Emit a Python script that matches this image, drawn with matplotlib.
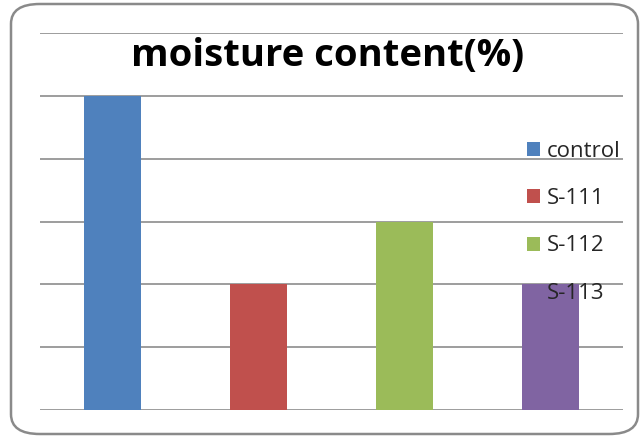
import matplotlib.pyplot as plt
from matplotlib.patches import FancyBboxPatch, Patch

# data
categories = ["control", "S-111", "S-112", "S-113"]
values = [5, 2, 3, 2]
colors = ["#4f81bd", "#c0504d", "#9bbb59", "#8064a2"]

fig = plt.figure(figsize=(6.41, 4.38), dpi=100)
ax = fig.add_axes([40 / 641, 28 / 438, 583 / 641, 377 / 438])

x = range(len(categories))
ax.bar(x, values, width=0.39, color=colors, zorder=3)

ax.set_xlim(-0.5, len(categories) - 0.5)
ax.set_ylim(0, 6)
ax.set_yticks(range(0, 7))
ax.yaxis.grid(True, color="#8c8c8c", linewidth=1.2, zorder=0)
ax.set_xticks([])
ax.tick_params(left=False, labelleft=False)
for s in ax.spines.values():
    s.set_visible(False)

# title drawn over the plot like excel
fig.text(0.511, 0.873, "moisture content(%)", ha="center", va="center",
         fontsize=27.5, fontweight="bold", family="Open Sans")

handles = [Patch(facecolor=c, edgecolor="none") for c in colors]
leg = ax.legend(handles, categories, loc="upper left",
                bbox_to_anchor=(487 / 583, (410 - 141) / 377),
                frameon=False, prop={"family": "Open Sans", "size": 16},
                handlelength=0.59, handleheight=0.59, handletextpad=0.3,
                labelspacing=1.18, borderpad=0, borderaxespad=0)
leg.set_zorder(5)
for t in leg.get_texts():
    t.set_color("#262626")

# rounded chart border
border = FancyBboxPatch((11 / 641, 4 / 438), 627 / 641, 430 / 438,
                        boxstyle="round,pad=0,rounding_size=0.045",
                        transform=fig.transFigure, fill=False,
                        edgecolor="#8a8a8a", linewidth=1.8)
fig.patches.append(border)

fig.savefig("out.png", dpi=100)
